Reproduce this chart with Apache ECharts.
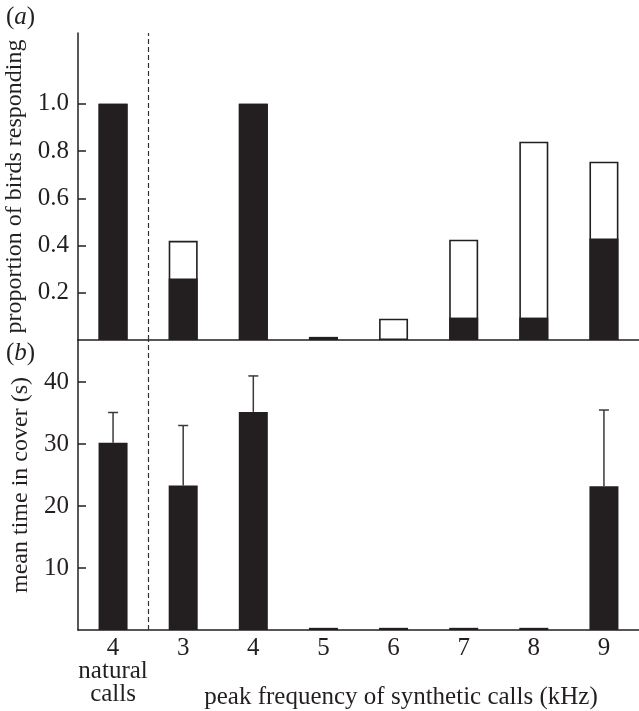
<!DOCTYPE html>
<html>
<head>
<meta charset="utf-8">
<script src="https://cdn.jsdelivr.net/npm/echarts@6/dist/echarts.min.js"></script>
<style>
html,body{margin:0;padding:0;background:#fff;}
#chart{width:639px;height:711px;}
</style>
</head>
<body>
<div id="chart"></div>
<script>
// ---- data ----
const categories = ['4', '3', '4', '5', '6', '7', '8', '9'];
const firstCategoryExtra = 'natural\ncalls';
const respondTotal = [1.0, 0.42, 1.0, 0.013, 0.09, 0.425, 0.84, 0.755];
const respondBlack = [1.0, 0.26, 1.0, 0.013, 0, 0.095, 0.095, 0.43];
const coverMean = [30.2, 23.3, 35.2, 0.35, 0.35, 0.35, 0.35, 23.2];
const coverErrTop = [35.1, 33.0, 41.0, null, null, null, null, 35.5];
const yTicksA = [0.2, 0.4, 0.6, 0.8, 1.0];
const yTicksB = [10, 20, 30, 40];
const dividerPos = 0.5; // between natural calls and synthetic calls

const INK = '#231f20';
const FONT = '"Liberation Serif", "DejaVu Serif", serif';
const FS = 25;
const NAME_FS = 24;

const chart = echarts.init(document.getElementById('chart'), null, {renderer: 'canvas'});

const axisLineStyle = {color: INK, width: 1.5};

const option = {
  animation: false,
  backgroundColor: '#fff',
  textStyle: {fontFamily: FONT, color: INK},
  grid: [
    {left: 78, right: 0, top: 33, height: 307, containLabel: false, outerBoundsMode: 'none'},
    {left: 78, right: 0, top: 340, height: 290, containLabel: false, outerBoundsMode: 'none'}
  ],
  title: [
    {text: '({a|a})', left: 1, top: 0,
      textStyle: {fontFamily: FONT, fontSize: FS, fontWeight: 'normal', color: INK,
        rich: {a: {fontFamily: FONT, fontSize: FS, fontStyle: 'italic', color: INK}}}},
    {text: '({a|b})', left: 1, top: 336,
      textStyle: {fontFamily: FONT, fontSize: FS, fontWeight: 'normal', color: INK,
        rich: {a: {fontFamily: FONT, fontSize: FS, fontStyle: 'italic', color: INK}}}},
    {text: 'peak frequency of synthetic calls (kHz)', left: 396, textAlign: 'center', top: 680,
      textStyle: {fontFamily: FONT, fontSize: FS, fontWeight: 'normal', color: INK}}
  ],
  xAxis: [
    {type: 'category', gridIndex: 0, data: categories, boundaryGap: true,
      axisLine: {lineStyle: axisLineStyle},
      axisTick: {inside: true, length: 8, interval: 0, lineStyle: {color: INK, width: 1.5}},
      axisLabel: {show: false}},
    {type: 'category', gridIndex: 1, data: categories, boundaryGap: true,
      axisLine: {lineStyle: axisLineStyle},
      axisTick: {inside: true, length: 8, interval: 0, lineStyle: {color: INK, width: 1.5}},
      axisLabel: {fontFamily: FONT, fontSize: FS, color: INK, margin: 7, lineHeight: 23,
        verticalAlign: 'top', interval: 0,
        formatter: function (v, i) { return i === 0 ? v + '\n' + firstCategoryExtra : v; }}},
    {type: 'value', gridIndex: 0, min: -0.5, max: categories.length - 0.5, show: false},
    {type: 'value', gridIndex: 1, min: -0.5, max: categories.length - 0.5, show: false}
  ],
  yAxis: [
    {type: 'value', gridIndex: 0, min: 0, max: 1.3,
      name: 'proportion of birds responding', nameLocation: 'middle', nameGap: 45,
      nameTextStyle: {fontFamily: FONT, fontSize: NAME_FS, color: INK},
      axisLine: {show: true, onZero: false, lineStyle: axisLineStyle},
      axisTick: {show: true, inside: true, length: 8, customValues: yTicksA, lineStyle: {color: INK, width: 1.5}},
      axisLabel: {fontFamily: FONT, fontSize: FS, color: INK, margin: 9, customValues: yTicksA,
        formatter: function (v) { return v.toFixed(1); }},
      splitLine: {show: false}},
    {type: 'value', gridIndex: 1, min: 0, max: 46.8,
      name: 'mean time in cover (s)', nameLocation: 'middle', nameGap: 45,
      nameTextStyle: {fontFamily: FONT, fontSize: NAME_FS, color: INK},
      axisLine: {show: true, onZero: false, lineStyle: axisLineStyle},
      axisTick: {show: true, inside: true, length: 8, customValues: yTicksB, lineStyle: {color: INK, width: 1.5}},
      axisLabel: {fontFamily: FONT, fontSize: FS, color: INK, margin: 9, customValues: yTicksB},
      splitLine: {show: false}}
  ],
  series: [
    {type: 'bar', xAxisIndex: 0, yAxisIndex: 0, data: respondTotal, barWidth: 29,
      itemStyle: {color: '#fff', borderColor: INK, borderWidth: 1.6}, silent: true},
    {type: 'bar', xAxisIndex: 0, yAxisIndex: 0, data: respondBlack, barWidth: 29, barGap: '-100%',
      itemStyle: {color: INK}, silent: true},
    {type: 'bar', xAxisIndex: 1, yAxisIndex: 1, data: coverMean, barWidth: 29,
      itemStyle: {color: INK}, silent: true},
    {type: 'custom', xAxisIndex: 1, yAxisIndex: 1, silent: true,
      data: coverMean.map(function (m, i) { return [i, m, coverErrTop[i]]; })
        .filter(function (d) { return d[2] != null; }),
      encode: {x: 0, y: [1, 2]},
      renderItem: function (params, api) {
        const x = api.value(0);
        const p0 = api.coord([x, api.value(1)]);
        const p1 = api.coord([x, api.value(2)]);
        const hw = 5;
        return {type: 'group', children: [
          {type: 'line', shape: {x1: p0[0], y1: p0[1], x2: p1[0], y2: p1[1]},
            style: {stroke: '#3a3a3a', lineWidth: 1.5}},
          {type: 'line', shape: {x1: p1[0] - hw, y1: p1[1], x2: p1[0] + hw, y2: p1[1]},
            style: {stroke: '#3a3a3a', lineWidth: 1.5}}
        ]};
      }},
    {type: 'line', xAxisIndex: 2, yAxisIndex: 0, data: [], silent: true,
      markLine: {silent: true, symbol: ['none', 'none'], label: {show: false},
        lineStyle: {type: [5, 3], color: '#333', width: 1.2},
        data: [{xAxis: dividerPos}]}},
    {type: 'line', xAxisIndex: 3, yAxisIndex: 1, data: [], silent: true,
      markLine: {silent: true, symbol: ['none', 'none'], label: {show: false},
        lineStyle: {type: [5, 3], color: '#333', width: 1.2},
        data: [{xAxis: dividerPos}]}}
  ]
};
chart.setOption(option);
</script>
</body>
</html>
